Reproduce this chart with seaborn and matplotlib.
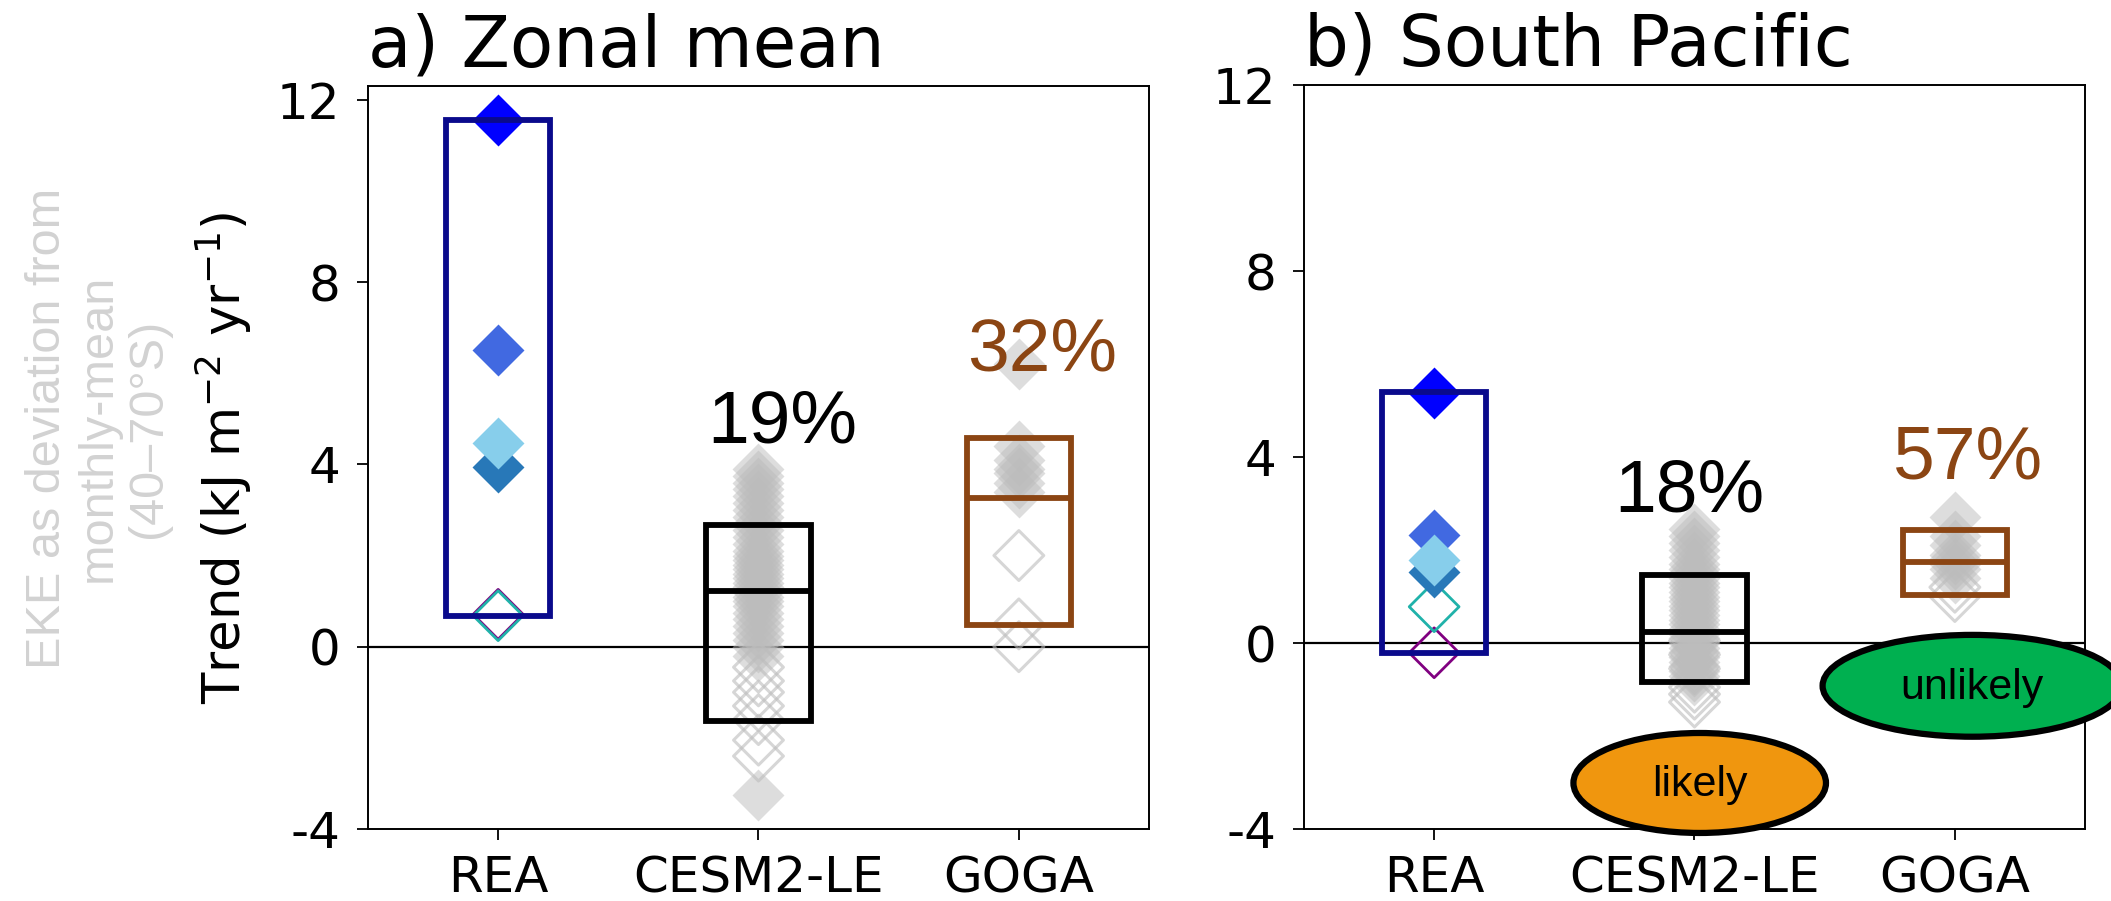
import numpy as np
import pandas as pd
import matplotlib
matplotlib.use("Agg")
import matplotlib.pyplot as plt
from matplotlib.patches import Ellipse
import seaborn as sns

sns.set_theme(style="white")
plt.rcParams['font.family'] = ['DejaVu Sans']
plt.rcParams['axes.unicode_minus'] = False
plt.rcParams['text.color'] = 'black'
plt.rcParams['axes.labelcolor'] = 'black'

# ---------------- data ----------------
groups = ["REA", "CESM2-LE", "GOGA"]

# reanalyses (drawing order), colours and filled flag
rea_colors = ['#800080', '#20B2AA', '#2878B8', '#4169E1', '#87CEEB', '#0000FF']
rea_filled = [False, False, True, True, True, True]
rea_zonal = [0.71, 0.68, 3.94, 6.52, 4.47, 11.55]
rea_pacific = [-0.21, 0.78, 1.53, 2.32, 1.78, 5.37]

# CESM2-LE members (filled = significant, open = not significant)
cesm_zonal_filled = [3.9, 3.75, 3.6, 3.45, 3.3, 3.15, 3.0, 2.85, 2.7, 2.55, 2.4, 2.25,
                     2.1, 2.0, 1.9, 1.8, 1.7, 1.6, 1.5, 1.4, 1.3, 1.2, 1.1, 1.0, 0.9,
                     0.75, 0.6, 0.45, 0.3, 0.15, 0.0, -0.2, -3.25]
cesm_zonal_open = [-0.45, -0.75, -1.0, -1.3, -1.6, -2.05, -2.4]
cesm_pacific_filled = [2.45, 2.3, 2.15, 2.0, 1.85, 1.7, 1.6, 1.5, 1.4, 1.3, 1.2, 1.1,
                       1.0, 0.9, 0.8, 0.7, 0.6, 0.5, 0.4, 0.3, 0.2, 0.1, 0.0, -0.1,
                       -0.2, -0.3, -0.4, -0.5, -0.6, -0.7, -0.8]
cesm_pacific_open = [0.05, -0.25, -0.55, -0.95, -1.1, -1.27]

# GOGA members
goga_zonal_filled = [6.2, 4.4, 4.1, 3.9, 3.8, 3.6, 3.4]
goga_zonal_open = [2.0, 0.5, 0.0]
goga_pacific_filled = [2.7, 2.3, 2.1, 1.9, 1.8, 1.7, 1.6, 1.4]
goga_pacific_open = [1.2, 1.0]

# boxes: low, centre line, high  (REA, CESM2-LE, GOGA)
box_zonal_low = [0.68, -1.62, 0.47]
box_zonal_mid = [np.nan, 1.22, 3.26]
box_zonal_high = [11.55, 2.68, 4.57]
box_pacific_low = [-0.22, -0.83, 1.03]
box_pacific_mid = [np.nan, 0.24, 1.75]
box_pacific_high = [5.39, 1.46, 2.43]
box_colors = ['#0A0A8C', '#000000', '#8B4513']

pct_zonal = ["", "19%", "32%"]
pct_pacific = ["", "18%", "57%"]
pct_colors = ['#000000', '#000000', '#8B4513']

likelihood_labels = ["likely", "unlikely"]
likelihood_colors = ['#F0960E', '#00B050']

yticks = [-4, 0, 4, 8, 12]
ytick_labels = ["-4", "0", "4", "8", "12"]

# ---------------- figure ----------------
fig = plt.figure(figsize=(21.11, 9.01), dpi=100)
axL = fig.add_axes([0.1743, 0.0799, 0.370, 0.8246])
axR = fig.add_axes([0.6177, 0.0799, 0.370, 0.8257])

MS = 700
GREY = '#bcbcbc'


def draw_panel(ax, rea, cz_f, cz_o, gz_f, gz_o, blow, bmid, bhigh, pct, pct_pos, ylim, title):
    # zero line
    ax.axhline(0, color='black', lw=1.6, zorder=1)
    # ensemble members
    for xi, vals in ((1, cz_f), (2, gz_f)):
        df = pd.DataFrame({'x': [xi] * len(vals), 'y': vals})
        sns.scatterplot(data=df, x='x', y='y', marker='D', s=MS, color=GREY,
                        alpha=0.5, linewidth=0, ax=ax, zorder=2)
    for xi, vals in ((1, cz_o), (2, gz_o)):
        df = pd.DataFrame({'x': [xi] * len(vals), 'y': vals})
        sns.scatterplot(data=df, x='x', y='y', marker='D', s=MS * 0.92, color=GREY,
                        facecolor='none', edgecolor=GREY, alpha=0.6,
                        linewidth=2.2, ax=ax, zorder=2)
    # reanalyses
    for c, f, v in zip(rea_colors, rea_filled, rea):
        df = pd.DataFrame({'x': [0], 'y': [v]})
        if f:
            sns.scatterplot(data=df, x='x', y='y', marker='D', s=MS, color=c,
                            linewidth=0, ax=ax, zorder=3)
        else:
            sns.scatterplot(data=df, x='x', y='y', marker='D', s=MS * 0.92, color=c,
                            facecolor='none', edgecolor=c, linewidth=2.0, ax=ax, zorder=3)
    # boxes
    xs = np.arange(len(groups))
    heights = np.array(bhigh) - np.array(blow)
    ax.bar(xs, heights, bottom=blow, width=0.4, fill=False,
           edgecolor=box_colors, linewidth=4.2, zorder=4)
    for xi, m, c in zip(xs, bmid, box_colors):
        if not np.isnan(m):
            ax.hlines(m, xi - 0.2, xi + 0.2, color=c, lw=4.2, zorder=4)
    # percentages
    for xi, t, c, (px, py) in zip(xs, pct, pct_colors, pct_pos):
        if t:
            ax.text(px, py, t, color=c, fontsize=54, family='Liberation Sans',
                    ha='center', va='baseline', zorder=6)
    ax.set_xlim(-0.5, 2.5)
    ax.set_ylim(*ylim)
    ax.set_xticks(xs)
    ax.set_xticklabels(groups)
    ax.set_yticks(yticks)
    ax.set_yticklabels(ytick_labels)
    ax.set_xlabel("")
    ax.set_ylabel("")
    ax.tick_params(axis='both', which='major', labelsize=36, length=8, width=1.3,
                   color='black', labelcolor='black', direction='out',
                   left=True, bottom=True)
    ax.tick_params(axis='y', pad=12)
    ax.tick_params(axis='x', pad=10)
    for sp in ax.spines.values():
        sp.set_color('black')
        sp.set_linewidth(1.4)
    ax.set_title(title, loc='left', fontsize=51, pad=14, color='black')


draw_panel(axL, rea_zonal, cesm_zonal_filled, cesm_zonal_open, goga_zonal_filled,
           goga_zonal_open, box_zonal_low, box_zonal_mid, box_zonal_high,
           pct_zonal, [(0, 0), (1.09, 4.48), (2.09, 6.06)], (-4, 12.3), "a) Zonal mean")
draw_panel(axR, rea_pacific, cesm_pacific_filled, cesm_pacific_open, goga_pacific_filled,
           goga_pacific_open, box_pacific_low, box_pacific_mid, box_pacific_high,
           pct_pacific, [(0, 0), (0.98, 2.82), (2.05, 3.54)], (-4, 12), "b) South Pacific")

axL.set_ylabel("Trend (kJ m$^{-2}$ yr$^{-1}$)", fontsize=37, labelpad=16, color='black')

# likelihood ellipses (panel b)
for (cx, cy, w, h), lab, col in zip([(1.02, -3.01, 0.97, 2.15), (2.067, -0.92, 1.15, 2.19)],
                                     likelihood_labels, likelihood_colors):
    e = Ellipse((cx, cy), w, h, facecolor=col, edgecolor='black', linewidth=4.5,
                clip_on=False, zorder=7)
    axR.add_patch(e)
    axR.text(cx, cy - 0.05, lab, fontsize=31, family='Liberation Sans', ha='center',
             va='center', color='black', zorder=8, clip_on=False)

fig.text(0.0464, 0.525, "EKE as deviation from\nmonthly-mean\n(40\u201370\u00b0S)",
         rotation=90, ha='center', va='center', multialignment='center',
         fontsize=35, family='Liberation Sans', color='#d2d2d2', linespacing=1.15)

fig.savefig("out.png", dpi=100)
